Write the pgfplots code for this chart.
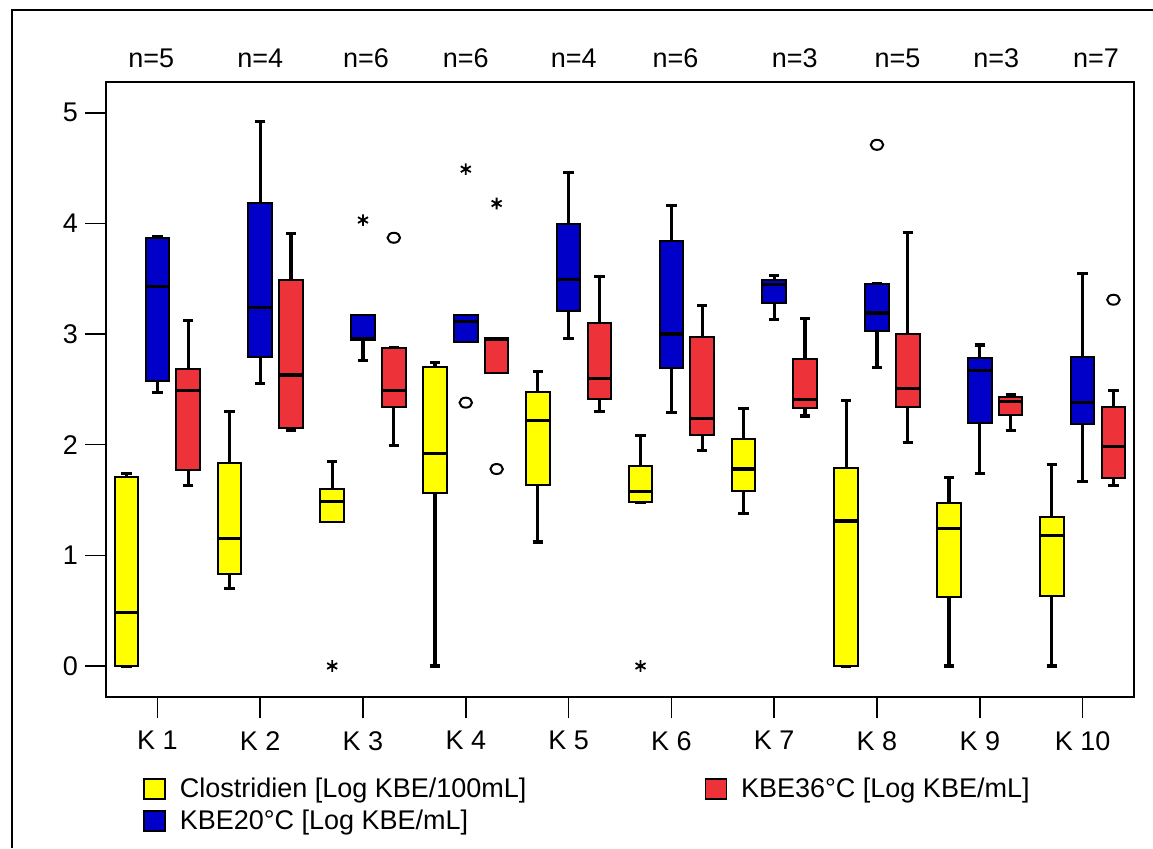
\documentclass[border=0pt]{standalone}
\usepackage{fontspec}
\setmainfont{Liberation Sans}
\usepackage{pgfplots}
\pgfplotsset{compat=1.18}
\usepgfplotslibrary{statistics}
\definecolor{cY}{RGB}{255,255,0}
\definecolor{cB}{RGB}{0,0,200}
\definecolor{cR}{RGB}{238,50,58}
\newcommand{\fs}{\fontsize{13.5}{15.5}\selectfont}
\pgfplotsset{sqlegend/.style={legend image code/.code={\draw[##1, line width=0.8pt] (0pt,-5pt) rectangle (10.5pt,5pt);}}}
% draw position, lower whisker, lower quartile, median, upper quartile, upper whisker, fill colour
\newcommand{\bp}[7]{\addplot[forget plot, draw=black, fill=#7, line width=1pt,
  boxplot prepared={draw position=#1, lower whisker=#2, lower quartile=#3,
  median=#4, upper quartile=#5, upper whisker=#6, box extend=0.23, whisker extend=0.1,
  draw direction=y,
  every median/.style={line width=1.6pt}, every whisker/.style={line width=1.6pt}}] coordinates {};}
\begin{document}
\begin{tikzpicture}
\useasboundingbox (0,0) rectangle (576.5pt,424pt);
\draw[line width=1pt] (6pt,0) -- (6pt,419pt) -- (576.5pt,419pt);
\begin{axis}[at={(53pt,75.35pt)}, anchor=south west, scale only axis,
  width=514pt, height=307.5pt,
  xmin=0.5, xmax=10.5, ymin=-0.283, ymax=5.275,
  axis line style={line width=1pt},
  xtick={1,...,10}, xticklabels={K 1,K 2,K 3,K 4,K 5,K 6,K 7,K 8,K 9,K 10},
  ytick={0,...,5},
  xtick pos=bottom, ytick pos=left, tick align=outside,
  major tick length=10.5pt, tick style={line width=0.8pt, black},
  /pgf/number format/assume math mode=true,
  ticklabel style={font=\fs},
  xticklabel style={yshift=-3pt},
  clip=false,
  legend columns=2, legend cell align=left,
  legend style={draw=none, fill=none, font=\fs, at={(axis description cs:0.03,-0.117)}, anchor=north west,
    /tikz/every odd column/.append style={column sep=5pt},
    /tikz/every even column/.append style={column sep=87pt}, row sep=0.8pt},
  ]
\addlegendimage{sqlegend, fill=cY, draw=black}
\addlegendentry{Clostridien [Log KBE/100mL]}
\addlegendimage{sqlegend, fill=cR, draw=black}
\addlegendentry{KBE36°C [Log KBE/mL]}
\addlegendimage{sqlegend, fill=cB, draw=black}
\addlegendentry{KBE20°C [Log KBE/mL]}
% K1
\bp{0.7}{0}{0}{0.48}{1.71}{1.74}{cY}
\bp{1.0}{2.47}{2.58}{3.43}{3.87}{3.88}{cB}
\bp{1.3}{1.63}{1.77}{2.49}{2.68}{3.12}{cR}
% K2
\bp{1.7}{0.70}{0.83}{1.15}{1.83}{2.30}{cY}
\bp{2.0}{2.55}{2.79}{3.24}{4.18}{4.92}{cB}
\bp{2.3}{2.13}{2.15}{2.63}{3.49}{3.91}{cR}
% K3
\bp{2.7}{1.305}{1.305}{1.49}{1.595}{1.85}{cY}
\bp{3.0}{2.76}{2.95}{2.955}{3.17}{3.17}{cB}
\bp{3.3}{1.99}{2.34}{2.49}{2.875}{2.875}{cR}
% K4
\bp{3.7}{0}{1.567}{1.92}{2.70}{2.74}{cY}
\bp{4.0}{2.93}{2.93}{3.11}{3.17}{3.17}{cB}
\bp{4.3}{2.65}{2.65}{2.95}{2.96}{2.96}{cR}
% K5
\bp{4.7}{1.12}{1.64}{2.22}{2.48}{2.66}{cY}
\bp{5.0}{2.96}{3.21}{3.49}{3.99}{4.46}{cB}
\bp{5.3}{2.30}{2.41}{2.60}{3.10}{3.52}{cR}
% K6
\bp{5.7}{1.48}{1.48}{1.58}{1.81}{2.085}{cY}
\bp{6.0}{2.29}{2.69}{3.00}{3.845}{4.16}{cB}
\bp{6.3}{1.95}{2.09}{2.235}{2.97}{3.255}{cR}
% K7
\bp{6.7}{1.38}{1.58}{1.78}{2.05}{2.33}{cY}
\bp{7.0}{3.13}{3.28}{3.45}{3.49}{3.53}{cB}
\bp{7.3}{2.26}{2.33}{2.41}{2.77}{3.14}{cR}
% K8
\bp{7.7}{0}{0}{1.31}{1.79}{2.40}{cY}
\bp{8.0}{2.70}{3.03}{3.19}{3.455}{3.455}{cB}
\bp{8.3}{2.02}{2.34}{2.51}{3.00}{3.92}{cR}
% K9
\bp{8.7}{0}{0.62}{1.24}{1.47}{1.70}{cY}
\bp{9.0}{1.74}{2.20}{2.67}{2.78}{2.90}{cB}
\bp{9.3}{2.13}{2.27}{2.39}{2.43}{2.45}{cR}
% K10
\bp{9.7}{0}{0.633}{1.18}{1.35}{1.82}{cY}
\bp{10.0}{1.67}{2.19}{2.38}{2.79}{3.55}{cB}
\bp{10.3}{1.63}{1.70}{1.98}{2.34}{2.49}{cR}
% outliers
\addplot[forget plot, only marks, mark=asterisk, mark size=2.9pt, black, mark options={line width=0.9pt}]
  coordinates {(2.7,0) (3.0,4.03) (4.0,4.49) (4.3,4.18) (5.7,0)};
\addplot[forget plot, only marks, mark=o, mark size=2.5pt, black, mark options={line width=1pt, xscale=1.25}]
  coordinates {(3.3,3.87) (4.0,2.38) (4.3,1.78) (8.0,4.71) (10.3,3.31)};
% n labels
\node[font=\fs] at (axis cs:0.94,5.494) {n=5};
\node[font=\fs] at (axis cs:2.0,5.494) {n=4};
\node[font=\fs] at (axis cs:3.03,5.494) {n=6};
\node[font=\fs] at (axis cs:4.0,5.494) {n=6};
\node[font=\fs] at (axis cs:5.05,5.494) {n=4};
\node[font=\fs] at (axis cs:6.04,5.494) {n=6};
\node[font=\fs] at (axis cs:7.2,5.494) {n=3};
\node[font=\fs] at (axis cs:8.2,5.494) {n=5};
\node[font=\fs] at (axis cs:9.16,5.494) {n=3};
\node[font=\fs] at (axis cs:10.13,5.494) {n=7};
\end{axis}
\end{tikzpicture}
\end{document}
